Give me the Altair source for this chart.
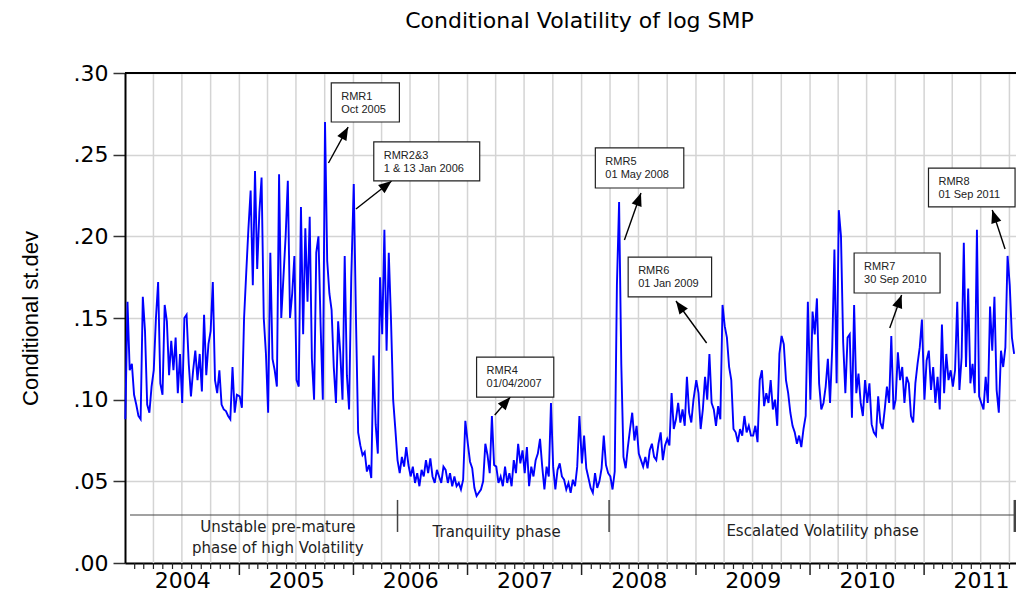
import altair as alt
import pandas as pd
import numpy as np

TITLE = "Conditional Volatility of log SMP"
Y_TITLE = "Conditional st.dev"
FONT = "Liberation Sans"
WIDE = "DejaVu Sans"

# weekly conditional volatility (one list per year)
vol_2004 = [0.088, 0.160, 0.118, 0.122, 0.103, 0.097, 0.090, 0.088, 0.163, 0.142, 0.097, 0.092, 0.108,
            0.118, 0.150, 0.172, 0.110, 0.103, 0.158, 0.148, 0.115, 0.136, 0.118, 0.138, 0.104, 0.128,
            0.098, 0.150, 0.152, 0.122, 0.102, 0.118, 0.130, 0.112, 0.128, 0.105, 0.152, 0.115, 0.134,
            0.142, 0.172, 0.112, 0.104, 0.118, 0.097, 0.094, 0.093, 0.090, 0.088, 0.120, 0.092, 0.103]
vol_2005 = [0.102, 0.095, 0.150, 0.178, 0.205, 0.228, 0.170, 0.240, 0.180, 0.215, 0.236, 0.150, 0.128,
            0.092, 0.190, 0.125, 0.118, 0.108, 0.238, 0.150, 0.175, 0.200, 0.234, 0.150, 0.165, 0.188,
            0.112, 0.108, 0.218, 0.140, 0.205, 0.160, 0.212, 0.125, 0.100, 0.190, 0.200, 0.145, 0.100,
            0.270, 0.185, 0.165, 0.155, 0.120, 0.098, 0.148, 0.128, 0.100, 0.188, 0.115, 0.094, 0.175]
vol_2006 = [0.232, 0.150, 0.080, 0.072, 0.066, 0.068, 0.056, 0.060, 0.052, 0.127, 0.085, 0.067, 0.175,
            0.140, 0.204, 0.130, 0.190, 0.150, 0.100, 0.082, 0.063, 0.055, 0.065, 0.059, 0.071, 0.060,
            0.053, 0.059, 0.049, 0.055, 0.047, 0.057, 0.053, 0.063, 0.055, 0.064, 0.053, 0.049, 0.057,
            0.053, 0.049, 0.059, 0.057, 0.049, 0.055, 0.047, 0.053, 0.047, 0.049, 0.045, 0.051, 0.087]
vol_2007 = [0.073, 0.062, 0.058, 0.046, 0.041, 0.043, 0.045, 0.050, 0.073, 0.066, 0.055, 0.090, 0.060,
            0.059, 0.049, 0.053, 0.047, 0.059, 0.049, 0.055, 0.047, 0.063, 0.055, 0.073, 0.061, 0.069,
            0.055, 0.071, 0.047, 0.059, 0.053, 0.063, 0.067, 0.076, 0.059, 0.045, 0.059, 0.053, 0.098,
            0.059, 0.045, 0.057, 0.061, 0.053, 0.051, 0.045, 0.049, 0.043, 0.051, 0.047, 0.059, 0.090]
vol_2008 = [0.061, 0.078, 0.058, 0.052, 0.046, 0.043, 0.055, 0.046, 0.050, 0.058, 0.078, 0.060, 0.055,
            0.053, 0.045, 0.056, 0.170, 0.221, 0.122, 0.065, 0.058, 0.071, 0.082, 0.092, 0.075, 0.084,
            0.067, 0.063, 0.059, 0.065, 0.058, 0.069, 0.073, 0.065, 0.063, 0.073, 0.080, 0.063, 0.072,
            0.076, 0.072, 0.104, 0.082, 0.088, 0.098, 0.086, 0.094, 0.084, 0.114, 0.092, 0.086, 0.100]
vol_2009 = [0.112, 0.104, 0.082, 0.094, 0.114, 0.100, 0.128, 0.098, 0.094, 0.084, 0.096, 0.088, 0.158,
            0.145, 0.138, 0.120, 0.112, 0.082, 0.080, 0.074, 0.082, 0.078, 0.090, 0.080, 0.084, 0.078,
            0.078, 0.084, 0.074, 0.112, 0.118, 0.096, 0.104, 0.098, 0.112, 0.094, 0.100, 0.084, 0.128,
            0.139, 0.134, 0.112, 0.104, 0.092, 0.084, 0.080, 0.073, 0.078, 0.071, 0.082, 0.090, 0.160]
vol_2010 = [0.100, 0.154, 0.140, 0.162, 0.110, 0.094, 0.098, 0.108, 0.125, 0.098, 0.132, 0.192, 0.110,
            0.216, 0.200, 0.135, 0.104, 0.138, 0.140, 0.089, 0.158, 0.104, 0.116, 0.098, 0.090, 0.112,
            0.098, 0.110, 0.085, 0.080, 0.078, 0.102, 0.086, 0.082, 0.094, 0.108, 0.098, 0.139, 0.094,
            0.100, 0.129, 0.112, 0.120, 0.098, 0.114, 0.110, 0.090, 0.086, 0.110, 0.122, 0.132, 0.149]
vol_2011 = [0.100, 0.124, 0.130, 0.106, 0.120, 0.098, 0.114, 0.094, 0.146, 0.104, 0.128, 0.112, 0.118,
            0.108, 0.118, 0.160, 0.106, 0.126, 0.196, 0.120, 0.168, 0.110, 0.122, 0.104, 0.204, 0.102,
            0.098, 0.094, 0.114, 0.098, 0.157, 0.130, 0.163, 0.106, 0.092, 0.130, 0.120, 0.132, 0.188,
            0.170, 0.138, 0.128]

series_by_year = {2004: vol_2004, 2005: vol_2005, 2006: vol_2006, 2007: vol_2007,
                  2008: vol_2008, 2009: vol_2009, 2010: vol_2010, 2011: vol_2011}
year_labels = list(series_by_year.keys())
y_ticks = [0, 0.05, 0.10, 0.15, 0.20, 0.25, 0.30]

# annotation boxes (data coordinates)
box_text = ["RMR1\nOct 2005", "RMR2&3\n1 & 13 Jan 2006", "RMR4\n01/04/2007", "RMR5\n01 May 2008",
            "RMR6\n01 Jan 2009", "RMR7\n30 Sep 2010", "RMR8\n01 Sep 2011"]
box_x0 = ["2005-10-22", "2006-03-07", "2007-01-30", "2008-02-14", "2008-05-29", "2010-05-22", "2011-01-15"]
box_x1 = ["2006-05-28", "2007-02-09", "2007-10-04", "2008-11-23", "2009-02-20", "2011-02-21", "2011-10-19"]
box_top = [0.2939, 0.2578, 0.1261, 0.2541, 0.1873, 0.1898, 0.2418]
box_bot = [0.2700, 0.2339, 0.1016, 0.2296, 0.1629, 0.1653, 0.2180]
arr_x_from = ["2005-10-13", "2006-01-09", "2007-03-29", "2008-05-17", "2009-02-04", "2010-09-13", "2011-09-17"]
arr_v_from = [0.2449, 0.2167, 0.0906, 0.1978, 0.1347, 0.1439, 0.1922]
arr_x_to = ["2005-12-15", "2006-05-03", "2007-05-18", "2008-07-09", "2008-10-29", "2010-10-21", "2011-08-07"]
arr_v_to = [0.2669, 0.2339, 0.1016, 0.2265, 0.1604, 0.1641, 0.2161]

# phase annotation
phase_line_from, phase_line_to, phase_line_v = "2004-01-17", "2011-10-19", 0.0294
phase_sep_dates = ["2006-05-22", "2008-03-29", "2011-10-19"]
phase_sep_width = [1.5, 1.5, 3]
phase_text = ["Unstable pre-mature", "phase of high Volatility", "Tranquility phase", "Escalated Volatility phase"]
phase_text_x = ["2005-05-04", "2005-05-04", "2007-04-04", "2010-02-10"]
phase_text_v = [0.0220, 0.0090, 0.0190, 0.0196]

W, H = 891, 490
D0, D1 = pd.Timestamp("2004-01-01"), pd.Timestamp("2011-10-22")
XDOM = [alt.DateTime(year=2004, month=1, date=1), alt.DateTime(year=2011, month=10, date=22)]

rows = []
for yr, vals in series_by_year.items():
    start = pd.Timestamp(f"{yr}-01-02")
    for i, v in enumerate(vals):
        rows.append({"date": start + pd.Timedelta(days=7 * i), "vol": v})
df = pd.DataFrame(rows)

xscale = alt.Scale(domain=XDOM)
yscale = alt.Scale(domain=[0, 0.30], nice=False)

X_AXIS = alt.Axis(values=[alt.DateTime(year=y, month=7, date=2) for y in year_labels],
                  labelExpr="timeFormat(datum.value, '%Y')", ticks=False, grid=False,
                  domainColor="black", domainWidth=2, labelFontSize=22, labelPadding=7,
                  labelColor="black", labelFont=WIDE, title=None)
Y_AXIS = alt.Axis(values=y_ticks,
                  labelExpr="replace(format(datum.value, '.2f'), '0.', '.')",
                  grid=True, gridColor="#d4d4d4", gridWidth=1.5,
                  tickColor="#333333", tickSize=12, tickWidth=1.5,
                  domainColor="black", domainWidth=2,
                  labelFontSize=22, labelPadding=5, labelColor="black", labelFont=WIDE,
                  title=Y_TITLE, titleFont=FONT, titleFontSize=22, titleFontWeight="normal",
                  titleColor="black", titlePadding=31)


def X(field):
    return alt.X(field, scale=xscale, axis=X_AXIS)


def Y(field):
    return alt.Y(field, scale=yscale, axis=Y_AXIS)


# quarterly vertical grid lines
quarters = pd.DataFrame({"d": pd.date_range("2004-04-01", "2011-10-01", freq="QS")})
quarters["lo"] = 0.0
quarters["hi"] = 0.30
grid = alt.Chart(quarters).mark_rule(color="#d4d4d4", strokeWidth=1.5).encode(
    x=X("d:T"), y=Y("lo:Q"), y2="hi:Q")

line = alt.Chart(df).mark_line(color="#0000ff", strokeWidth=1.9).encode(
    x=X("date:T"), y=Y("vol:Q"))

months = pd.DataFrame({"d": pd.date_range("2004-02-01", "2011-10-01", freq="MS")})
months["major"] = months["d"].dt.month == 1
minor_ticks = alt.Chart(months[~months["major"]]).mark_rule(color="#222222", strokeWidth=1.2).encode(
    x=X("d:T"), y=alt.value(H), y2=alt.value(H + 6))
major_ticks = alt.Chart(months[months["major"]]).mark_rule(color="#222222", strokeWidth=1.5).encode(
    x=X("d:T"), y=alt.value(H), y2=alt.value(H + 12))

top_border = alt.Chart(pd.DataFrame({"a": [0]})).mark_rule(color="black", strokeWidth=2).encode(
    x=alt.value(0), x2=alt.value(W), y=alt.value(0))

phase_df = pd.DataFrame({"x0": [pd.Timestamp(phase_line_from)], "x1": [pd.Timestamp(phase_line_to)],
                         "v": [phase_line_v]})
phase_line = alt.Chart(phase_df).mark_rule(color="#444444", strokeWidth=1.2).encode(
    x=X("x0:T"), x2="x1:T", y=Y("v:Q"))
sep_df = pd.DataFrame({"d": pd.to_datetime(phase_sep_dates), "w": phase_sep_width,
                       "v0": [0.0386] * 3, "v1": [0.0190] * 3})
phase_sep = alt.Chart(sep_df).mark_rule(color="#444444").encode(
    x=X("d:T"), y=Y("v0:Q"), y2="v1:Q",
    strokeWidth=alt.StrokeWidth("w:Q", scale=None, legend=None))
ptxt_df = pd.DataFrame({"d": pd.to_datetime(phase_text_x), "v": phase_text_v, "t": phase_text})
phase_txt = alt.Chart(ptxt_df).mark_text(font=WIDE, fontSize=15, color="#222222", align="center",
                                         baseline="middle").encode(
    x=X("d:T"), y=Y("v:Q"), text="t:N")

box_df = pd.DataFrame({"x0": pd.to_datetime(box_x0), "x1": pd.to_datetime(box_x1),
                       "top": box_top, "bot": box_bot, "t": box_text})
boxes = alt.Chart(box_df).mark_rect(fill="white", stroke="#222222", strokeWidth=1.2).encode(
    x=X("x0:T"), x2="x1:T", y=Y("top:Q"), y2="bot:Q")
box_txt = alt.Chart(box_df).mark_text(font=FONT, fontSize=11, color="#222222", align="left",
                                      baseline="top", dx=10, dy=8, lineBreak="\n",
                                      lineHeight=13).encode(
    x=X("x0:T"), y=Y("top:Q"), text="t:N")

arr_df = pd.DataFrame({"xf": pd.to_datetime(arr_x_from), "vf": arr_v_from,
                       "xt": pd.to_datetime(arr_x_to), "vt": arr_v_to})
ppd = W / (D1 - D0).days
ppv = H / 0.30
dxp = (arr_df["xt"] - arr_df["xf"]).dt.days * ppd
dyp = -(arr_df["vt"] - arr_df["vf"]) * ppv
arr_df["angle"] = np.degrees(np.arctan2(dxp, -dyp)) % 360
shafts = alt.Chart(arr_df).mark_rule(color="black", strokeWidth=1.4).encode(
    x=X("xf:T"), x2="xt:T", y=Y("vf:Q"), y2="vt:Q")
heads = alt.Chart(arr_df).mark_point(shape="M0,0L-0.4,1L0.4,1Z", filled=True, size=680,
                                     color="black", opacity=1, strokeWidth=0).encode(
    x=X("xt:T"), y=Y("vt:Q"),
    angle=alt.Angle("angle:Q", scale=None, legend=None))

chart = alt.layer(grid, minor_ticks, major_ticks, phase_line, phase_sep, phase_txt, line,
                  shafts, heads, boxes, box_txt, top_border).properties(
    width=W, height=H,
    title=alt.TitleParams(TITLE, font=WIDE, fontSize=22, fontWeight="normal", color="black",
                          anchor="middle", baseline="alphabetic", offset=12, dx=9),
    autosize=alt.AutoSizeParams(type="none"),
    padding={"left": 117, "top": 65, "right": 0, "bottom": 33},
).configure_view(stroke=None)

chart.save("out.html", embed_options={"renderer": "svg", "actions": False})
